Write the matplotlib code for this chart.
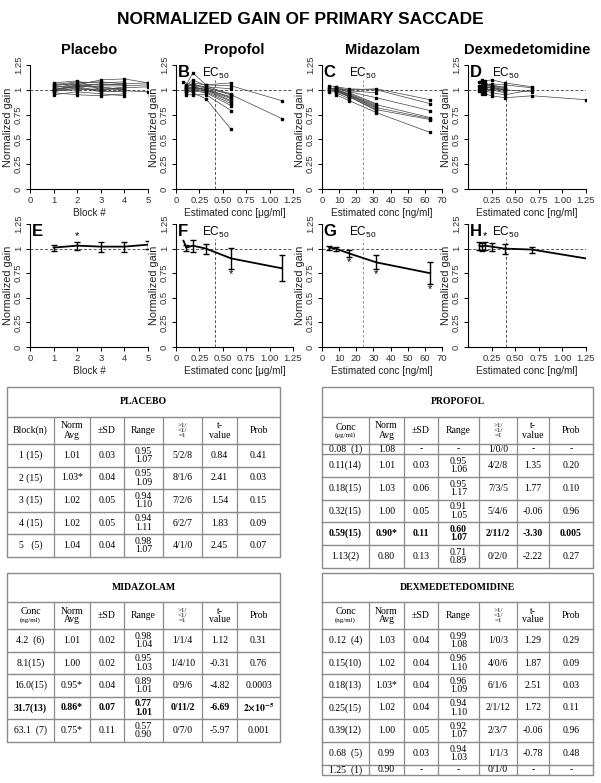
import numpy as np
import matplotlib
matplotlib.use("Agg")
import matplotlib.pyplot as plt
from matplotlib.patches import Rectangle
from matplotlib.transforms import blended_transform_factory

plt.rcParams["font.family"] = "Liberation Sans"
plt.rcParams["mathtext.fontset"] = "custom"
plt.rcParams["mathtext.rm"] = "Liberation Sans"
plt.rcParams["axes.spines.top"] = False
plt.rcParams["axes.spines.right"] = False
plt.rcParams["axes.linewidth"] = 0.8

nan = np.nan

# ---------------- data ----------------
placebo_x = [1, 2, 3, 4, 5]
placebo_subjects = [
    [0.95, 0.98, 0.96, 0.94, nan],
    [0.97, 0.95, 0.94, 0.96, nan],
    [0.98, 1.02, 0.98, 0.99, 0.98],
    [0.99, 1.00, 1.01, 1.00, nan],
    [1.00, 1.03, 0.99, 0.98, nan],
    [1.00, 1.01, 1.00, 1.02, 1.03],
    [1.00, 1.04, 1.02, 1.01, nan],
    [1.00, 1.05, 1.03, 1.00, nan],
    [1.01, 1.03, 1.04, 1.04, 1.05],
    [1.02, 1.06, 1.05, 1.06, nan],
    [1.03, 1.04, 1.06, 1.05, nan],
    [1.04, 1.07, 1.08, 1.06, 1.07],
    [1.05, 1.08, 1.07, 1.08, nan],
    [1.06, 1.05, 1.10, 1.11, 1.07],
    [1.07, 1.09, 1.00, 1.03, nan],
]
placebo_mean = [1.01, 1.03, 1.02, 1.02, 1.04]
placebo_sd = [0.03, 0.04, 0.05, 0.05, 0.04]
placebo_sig = [False, True, False, False, False]

propofol_x = [0.08, 0.11, 0.18, 0.32, 0.59, 1.13]
propofol_subjects = [
    [nan, 1.00, 0.97, 0.91, 0.60, nan],
    [nan, 1.05, 1.17, 1.05, 1.04, 0.89],
    [nan, 0.95, 0.95, 0.95, 0.79, nan],
    [nan, 1.04, 1.10, 1.04, 0.95, 0.71],
    [nan, 0.97, 0.99, 0.97, 0.84, nan],
    [nan, 1.02, 1.07, 1.05, 1.07, nan],
    [nan, 0.98, 1.00, 0.98, 0.86, nan],
    [nan, 1.03, 1.05, 1.03, 1.01, nan],
    [nan, 0.99, 1.01, 0.99, 0.88, nan],
    [nan, 1.01, 1.02, 1.00, 0.89, nan],
    [nan, 1.04, 1.06, 1.02, 0.95, nan],
    [nan, 1.02, 1.03, 1.00, 0.91, nan],
    [nan, 1.00, 1.02, 1.01, 0.92, nan],
    [nan, 1.01, 1.03, 1.00, 0.93, nan],
    [1.08, nan, 1.04, 1.02, 0.96, nan],
]
propofol_mean = [1.08, 1.01, 1.03, 1.00, 0.90, 0.80]
propofol_sd = [nan, 0.03, 0.06, 0.05, 0.11, 0.13]
propofol_sig = [False, False, False, False, True, False]
propofol_ec50 = 0.42

midazolam_x = [4.2, 8.1, 16.0, 31.7, 63.1]
midazolam_subjects = [
    [1.02, 1.01, 1.00, 1.01, 0.90],
    [1.04, 1.03, 1.01, 1.00, 0.86],
    [1.01, 1.02, 0.98, 0.92, 0.79],
    [0.99, 1.00, 0.96, 0.85, 0.72],
    [1.02, 0.99, 0.94, 0.82, 0.71],
    [0.98, 0.98, 0.93, 0.80, 0.70],
    [nan, 0.95, 0.89, 0.77, 0.57],
    [nan, 1.03, 0.99, 0.97, nan],
    [nan, 1.02, 0.97, 0.86, nan],
    [nan, 1.01, 0.95, 0.84, nan],
    [nan, 1.00, 0.95, 0.83, nan],
    [nan, 1.00, 0.94, 0.81, nan],
    [nan, 0.99, 0.93, 0.79, nan],
    [nan, 1.02, 0.92, nan, nan],
    [nan, 0.97, 0.91, nan, nan],
]
midazolam_mean = [1.01, 1.00, 0.95, 0.86, 0.75]
midazolam_sd = [0.02, 0.02, 0.04, 0.07, 0.11]
midazolam_sig = [False, False, True, True, True]
midazolam_ec50 = 24.0

dex_x = [0.12, 0.15, 0.18, 0.25, 0.39, 0.68, 1.25]
dex_subjects = [
    [0.99, 0.96, 0.96, 0.94, 0.92, 0.94, 0.90],
    [1.08, 1.10, 1.09, 1.10, 1.07, 1.03, nan],
    [1.04, 1.05, 1.05, 1.06, 1.05, 1.02, nan],
    [1.01, 1.00, 1.02, 1.03, 1.00, 0.98, nan],
    [nan, 0.98, 0.99, 0.97, 0.95, 1.00, nan],
    [nan, 1.00, 1.01, 1.00, 0.97, nan, nan],
    [nan, 1.00, 1.03, 1.02, 0.98, nan, nan],
    [nan, 1.01, 1.04, 1.04, 1.03, nan, nan],
    [nan, 1.02, 1.06, 1.05, 1.02, nan, nan],
    [nan, 1.08, 1.07, 1.04, 1.01, nan, nan],
    [nan, nan, 1.00, 1.01, 1.00, nan, nan],
    [nan, nan, 1.02, 1.02, 1.00, nan, nan],
    [nan, nan, 1.05, 1.03, nan, nan, nan],
    [nan, nan, nan, 1.00, nan, nan, nan],
    [nan, nan, nan, 1.01, nan, nan, nan],
]
dex_mean = [1.03, 1.02, 1.03, 1.02, 1.00, 0.99, 0.90]
dex_sd = [0.04, 0.04, 0.04, 0.04, 0.05, 0.03, nan]
dex_sig = [False, False, True, False, False, False, False]
dex_ec50 = 0.40

# table contents
tab_header = ["Norm\nAvg", "±SD", "Range", ">1/\n<1/\n=1", "t-\nvalue", "Prob"]
placebo_rows = [
    ["1 (15)", "1.01", "0.03", "0.95\n1.07", "5/2/8", "0.84", "0.41"],
    ["2 (15)", "1.03*", "0.04", "0.95\n1.09", "8/1/6", "2.41", "0.03"],
    ["3 (15)", "1.02", "0.05", "0.94\n1.10", "7/2/6", "1.54", "0.15"],
    ["4 (15)", "1.02", "0.05", "0.94\n1.11", "6/2/7", "1.83", "0.09"],
    ["5   (5)", "1.04", "0.04", "0.98\n1.07", "4/1/0", "2.45", "0.07"],
]
propofol_rows = [
    ["0.08  (1)", "1.08", "-", "-", "1/0/0", "-", "-"],
    ["0.11(14)", "1.01", "0.03", "0.95\n1.06", "4/2/8", "1.35", "0.20"],
    ["0.18(15)", "1.03", "0.06", "0.95\n1.17", "7/3/5", "1.77", "0.10"],
    ["0.32(15)", "1.00", "0.05", "0.91\n1.05", "5/4/6", "-0.06", "0.96"],
    ["0.59(15)", "0.90*", "0.11", "0.60\n1.07", "2/11/2", "-3.30", "0.005"],
    ["1.13(2)", "0.80", "0.13", "0.71\n0.89", "0/2/0", "-2.22", "0.27"],
]
midazolam_rows = [
    ["4.2  (6)", "1.01", "0.02", "0.98\n1.04", "1/1/4", "1.12", "0.31"],
    ["8.1(15)", "1.00", "0.02", "0.95\n1.03", "1/4/10", "-0.31", "0.76"],
    ["16.0(15)", "0.95*", "0.04", "0.89\n1.01", "0/9/6", "-4.82", "0.0003"],
    ["31.7(13)", "0.86*", "0.07", "0.77\n1.01", "0/11/2", "-6.69", r"$\mathbf{2{\times}10^{-5}}$"],
    ["63.1  (7)", "0.75*", "0.11", "0.57\n0.90", "0/7/0", "-5.97", "0.001"],
]
dex_rows = [
    ["0.12  (4)", "1.03", "0.04", "0.99\n1.08", "1/0/3", "1.29", "0.29"],
    ["0.15(10)", "1.02", "0.04", "0.96\n1.10", "4/0/6", "1.87", "0.09"],
    ["0.18(13)", "1.03*", "0.04", "0.96\n1.09", "6/1/6", "2.51", "0.03"],
    ["0.25(15)", "1.02", "0.04", "0.94\n1.10", "2/1/12", "1.72", "0.11"],
    ["0.39(12)", "1.00", "0.05", "0.92\n1.07", "2/3/7", "-0.06", "0.96"],
    ["0.68  (5)", "0.99", "0.03", "0.94\n1.03", "1/1/3", "-0.78", "0.48"],
    ["1.25  (1)", "0.90", "-", "-", "0/1/0", "-", "-"],
]

W, H = 601, 783
fig = plt.figure(figsize=(W / 100, H / 100), dpi=100)


def px_axes(left, right, top, bottom):
    return fig.add_axes([left / W, 1 - bottom / H, (right - left) / W, (bottom - top) / H])


def style_axes(ax, xlim, xticks, xticklabels, xlabel, letter=None, ec50=None, ec_color="#555555"):
    ax.set_xlim(*xlim)
    ax.set_ylim(0, 1.25)
    ax.set_xticks(xticks)
    ax.set_xticklabels(xticklabels)
    ax.set_yticks([0, 0.25, 0.5, 0.75, 1, 1.25])
    ax.set_yticklabels(["0", "0.25", "0.5", "0.75", "1", "1.25"], rotation=90, va="center")
    ax.tick_params(direction="out", length=3, width=0.7, labelsize=6.8, labelcolor="#333333", pad=2)
    ax.set_xlabel(xlabel, fontsize=7.2, labelpad=2, color="#222222")
    ax.set_ylabel("Normalized gain", fontsize=7.8, labelpad=1, color="#222222")
    ax.axhline(1, color="#555555", lw=0.7, ls=(0, (3, 2)), zorder=1)
    if ec50 is not None:
        ax.plot([ec50, ec50], [0, 1.1], color=ec_color, lw=0.7, ls=(0, (3, 2)), zorder=1)
        tr = blended_transform_factory(ax.transData, ax.transAxes)
        ax.text(ec50, 0.93, r"EC$_{50}$", transform=tr, ha="center", va="center", fontsize=8.5)
    if letter:
        ax.text(0.015, 1.0, letter, transform=ax.transAxes, ha="left", va="top",
                fontsize=12, fontweight="bold")


def plot_subjects(ax, x, subjects):
    x = np.array(x)
    for s in subjects:
        s = np.array(s)
        ok = ~np.isnan(s)
        ax.plot(x[ok], s[ok], color="#444444", lw=0.5, marker="s", ms=1.5,
                mfc="black", mec="black", zorder=3)


def plot_mean(ax, x, mean, sd, sig):
    x = np.array(x)
    mean = np.array(mean)
    sd = np.array(sd)
    ax.plot(x, mean, color="black", lw=1.3, zorder=3)
    ok = ~np.isnan(sd)
    ax.errorbar(x[ok], mean[ok], yerr=sd[ok], fmt="none", ecolor="black",
                elinewidth=1.0, capsize=2.5, capthick=1.0, zorder=3)
    for xi, m, s, flag in zip(x, mean, sd, sig):
        if flag:
            if m > 1:
                ax.text(xi, m + s + 0.005, "*", ha="center", va="bottom", fontsize=8)
            else:
                ax.text(xi, m - s - 0.1, "*", ha="center", va="bottom", fontsize=8)


cols = [(30, 148), (176, 293), (322, 442), (468, 586)]
rows_px = [(65, 189), (224, 347)]

conc_ug = "Estimated conc [\u03bcg/ml]"
conc_ng = "Estimated conc [ng/ml]"
x_prop = [0, 0.25, 0.5, 0.75, 1.0, 1.25]
x_prop_lab = ["0", "0.25", "0.50", "0.75", "1.00", "1.25"]
x_dex = [0.25, 0.5, 0.75, 1.0, 1.25]
x_dex_lab = ["0.25", "0.50", "0.75", "1.00", "1.25"]
x_mid = list(range(0, 71, 10))

panels = [
    ("Placebo", placebo_x, placebo_subjects, placebo_mean, placebo_sd, placebo_sig,
     (0, 5), [0, 1, 2, 3, 4, 5], ["0", "1", "2", "3", "4", "5"], "Block #", None, ("", "E")),
    ("Propofol", propofol_x, propofol_subjects, propofol_mean, propofol_sd, propofol_sig,
     (0, 1.25), x_prop, x_prop_lab, conc_ug, propofol_ec50, ("B", "F")),
    ("Midazolam", midazolam_x, midazolam_subjects, midazolam_mean, midazolam_sd, midazolam_sig,
     (0, 70), x_mid, [str(v) for v in x_mid], conc_ng, midazolam_ec50, ("C", "G")),
    ("Dexmedetomidine", dex_x, dex_subjects, dex_mean, dex_sd, dex_sig,
     (0, 1.25), x_dex, x_dex_lab, conc_ng, dex_ec50, ("D", "H")),
]

for (l, r), p in zip(cols, panels):
    name, x, subj, mean, sd, sig, xlim, xt, xtl, xlab, ec50, letters = p
    ec_col = "#9a9a9a" if name == "Midazolam" else "#555555"
    ax1 = px_axes(l, r, *rows_px[0])
    style_axes(ax1, xlim, xt, xtl, xlab, letters[0], ec50, ec_col)
    plot_subjects(ax1, x, subj)
    fig.text((l + r) / 2 / W, 1 - 50 / H, name, ha="center", va="center",
             fontsize=10.5, fontweight="bold")
    ax2 = px_axes(l, r, *rows_px[1])
    style_axes(ax2, xlim, xt, xtl, xlab, letters[1], ec50, ec_col)
    plot_mean(ax2, x, mean, sd, sig)

fig.text(0.5, 1 - 19 / H, "NORMALIZED GAIN OF PRIMARY SACCADE", ha="center", va="center",
         fontsize=12.5, fontweight="bold")

# ---------------- tables ----------------
tab = fig.add_axes([0, 0, 1, 1])
tab.set_xlim(0, W)
tab.set_ylim(H, 0)
tab.axis("off")
GRID = "#8a8a8a"
SERIF = "Liberation Serif"


def draw_table(xe, ye, title, first_head, unit, rows, bold_row=None):
    x0, x1 = xe[0], xe[-1]
    tab.add_patch(Rectangle((x0, ye[0]), x1 - x0, ye[-1] - ye[0], fill=False, ec=GRID, lw=1.0))
    for y in ye[1:-1]:
        tab.plot([x0, x1], [y, y], color=GRID, lw=1.0)
    for x in xe[1:-1]:
        tab.plot([x, x], [ye[1], ye[-1]], color=GRID, lw=0.9)
    tab.text((x0 + x1) / 2, (ye[0] + ye[1]) / 2, title, ha="center", va="center",
             fontsize=7, fontweight="bold", family=SERIF)
    hy = (ye[1] + ye[2]) / 2
    cx0 = (xe[0] + xe[1]) / 2
    if unit:
        tab.text(cx0, hy - 3.5, first_head, ha="center", va="center", fontsize=7, family=SERIF)
        tab.text(cx0, hy + 4.5, unit, ha="center", va="center", fontsize=5, family=SERIF)
    else:
        tab.text(cx0, hy, first_head, ha="center", va="center", fontsize=7, family=SERIF)
    for i, h in enumerate(tab_header):
        cx = (xe[i + 1] + xe[i + 2]) / 2
        fs = 5 if h.startswith(">") else 7
        tab.text(cx, hy, h, ha="center", va="center", fontsize=fs, family=SERIF,
                 linespacing=1.0)
    for j, row in enumerate(rows):
        cy = (ye[j + 2] + ye[j + 3]) / 2
        fw = "bold" if j == bold_row else "normal"
        for i, cell in enumerate(row):
            cx = (xe[i] + xe[i + 1]) / 2
            tab.text(cx, cy, cell, ha="center", va="center", fontsize=7, family=SERIF,
                     fontweight=fw, linespacing=0.95, math_fontfamily="stix")


xe_left = [7, 54, 90, 124, 163, 202, 237, 280]
xe_right = [322, 369, 404, 438, 479, 517, 549, 593]
draw_table(xe_left, [387, 417, 444, 467, 489, 512, 534, 557], "PLACEBO",
           "Block(n)", None, placebo_rows)
draw_table(xe_right, [387, 417, 444, 454, 477, 500, 522, 545, 568], "PROPOFOL",
           "Conc", "(\u03bcg/ml)", propofol_rows, bold_row=4)
draw_table(xe_left, [573, 602, 629, 652, 674, 697, 719, 742], "MIDAZOLAM",
           "Conc", "(ng/ml)", midazolam_rows, bold_row=3)
draw_table(xe_right, [573, 602, 629, 652, 674, 697, 719, 742, 765, 775], "DEXMEDETEDOMIDINE",
           "Conc", "(ng/ml)", dex_rows)

fig.savefig("out.png", dpi=100)
